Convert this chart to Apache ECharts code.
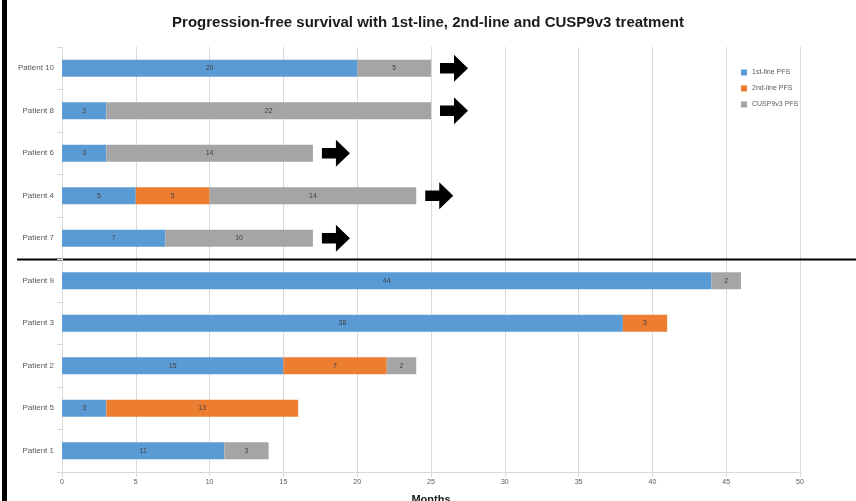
<!DOCTYPE html>
<html>
<head>
<meta charset="utf-8">
<script src="https://cdn.jsdelivr.net/npm/echarts@6/dist/echarts.min.js"></script>
<style>
  html, body { margin: 0; padding: 0; background: #fff; }
  #chart { width: 856px; height: 501px; }
</style>
</head>
<body>
<div id="chart"></div>
<script>
// patients, top group still on CUSP9v3 (arrow), bottom group progressed
const categories = ['Patient 10', 'Patient 8', 'Patient 6', 'Patient 4', 'Patient 7',
  'Patient 9', 'Patient 3', 'Patient 2', 'Patient 5', 'Patient 1']
const firstLine = [20, 3, 3, 5, 7, 44, 38, 15, 3, 11]
const secondLine = [0, 0, 0, 5, 0, 0, 3, 7, 13, 0]
const cusp = [5, 22, 14, 14, 10, 2, 0, 2, 0, 3]
const ongoing = [true, true, true, true, true, false, false, false, false, false]
const xTicks = [0, 5, 10, 15, 20, 25, 30, 35, 40, 45, 50]

const nz = arr => arr.map(v => (v > 0 ? v : null))
const arrowData = categories
  .map((c, i) => (ongoing[i] ? [firstLine[i] + secondLine[i] + cusp[i], c] : null))
  .filter(d => d)

const myChart = echarts.init(document.getElementById('chart'))
const labelStyle = {
  show: true,
  position: 'inside',
  color: '#404040',
  fontSize: 7,
  fontFamily: 'Liberation Sans'
}
const option = {
  animation: false,
  title: {
    text: 'Progression-free survival with 1st-line, 2nd-line and CUSP9v3 treatment',
    left: 'center',
    top: 10,
    textStyle: { fontSize: 15, fontWeight: 'bold', color: '#1a1a1a', fontFamily: 'Liberation Sans' }
  },
  legend: {
    orient: 'vertical',
    left: 736,
    top: 64,
    itemWidth: 6,
    itemHeight: 6,
    itemGap: 9,
    icon: 'rect',
    data: ['1st-line PFS', '2nd-line PFS', 'CUSP9v3 PFS'],
    textStyle: { fontSize: 7, color: '#595959', fontFamily: 'Liberation Sans' }
  },
  grid: { left: 62, right: 56, top: 47, bottom: 29, outerBoundsMode: 'none' },
  xAxis: {
    type: 'value',
    min: 0,
    max: 50,
    interval: 5,
    name: 'Months',
    nameLocation: 'middle',
    nameGap: 22,
    nameTextStyle: { fontSize: 11, fontWeight: 'bold', color: '#1a1a1a', fontFamily: 'Liberation Sans' },
    axisLine: { show: true, lineStyle: { color: '#d9d9d9' } },
    axisTick: { show: true, lineStyle: { color: '#d9d9d9' } },
    axisLabel: { fontSize: 7, color: '#595959', margin: 7, formatter: v => (xTicks.includes(v) ? v : '') },
    splitLine: { lineStyle: { color: '#d9d9d9' } }
  },
  yAxis: {
    type: 'category',
    inverse: true,
    data: categories,
    axisLine: { lineStyle: { color: '#d9d9d9' } },
    axisTick: { show: true, lineStyle: { color: '#d9d9d9' } },
    axisLabel: { fontSize: 8, color: '#595959', margin: 8, fontFamily: 'Liberation Sans' }
  },
  series: [
    {
      name: '1st-line PFS',
      type: 'bar',
      stack: 'pfs',
      barWidth: 17,
      data: nz(firstLine),
      itemStyle: { color: '#5b9bd5' },
      label: labelStyle
    },
    {
      name: '2nd-line PFS',
      type: 'bar',
      stack: 'pfs',
      data: nz(secondLine),
      itemStyle: { color: '#ed7d31' },
      label: labelStyle
    },
    {
      name: 'CUSP9v3 PFS',
      type: 'bar',
      stack: 'pfs',
      data: nz(cusp),
      itemStyle: { color: '#a5a5a5' },
      label: labelStyle
    },
    {
      name: 'ongoing',
      type: 'scatter',
      data: arrowData,
      symbol: 'path://M0,8 L15,8 L15,0 L30,13 L15,26 L15,18 L0,18 Z',
      symbolSize: [28, 27],
      symbolOffset: [23, 0],
      itemStyle: { color: '#000', opacity: 1 },
      silent: true,
      z: 5
    }
  ]
}
myChart.setOption(option)

// separator between the two patient groups, and the frame edge on the left
const yA = myChart.convertToPixel({ gridIndex: 0 }, [0, categories[4]])[1]
const yB = myChart.convertToPixel({ gridIndex: 0 }, [0, categories[5]])[1]
myChart.setOption({
  graphic: [
    {
      type: 'line',
      shape: { x1: 17, y1: (yA + yB) / 2, x2: 856, y2: (yA + yB) / 2 },
      style: { stroke: '#000', lineWidth: 2 }
    },
    {
      type: 'rect',
      shape: { x: 2, y: 0, width: 5, height: 501 },
      style: { fill: '#000' }
    }
  ]
})
</script>
</body>
</html>
